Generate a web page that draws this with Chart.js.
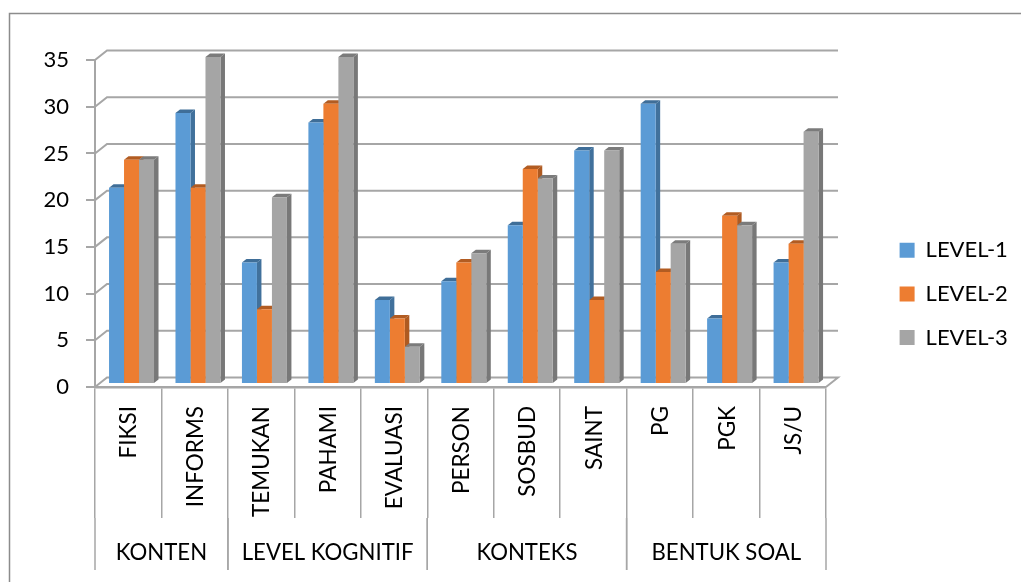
<!DOCTYPE html>
<html>
<head>
<meta charset="utf-8">
<style>
	html, body { margin: 0; padding: 0; background: #fff; }
	canvas { display: block; }
</style>
<script src="https://cdn.jsdelivr.net/npm/chart.js@4/dist/chart.umd.min.js"></script>
</head>
<body>
<canvas id="chart" width="1021" height="582"></canvas>
<script>
var categories = ["FIKSI","INFORMS","TEMUKAN","PAHAMI","EVALUASI","PERSON","SOSBUD","SAINT","PG","PGK","JS/U"];
var groupNames = ["KONTEN","LEVEL KOGNITIF","KONTEKS","BENTUK SOAL"];
var groupSizes = [2,3,3,3];

var level1 = [21,29,13,28,9,11,17,25,30,7,13];
var level2 = [24,21,8,30,7,13,23,9,12,18,15];
var level3 = [24,35,20,35,4,14,22,25,15,17,27];

var fontName = "Lato";
var gridColor = "#A6A6A6";

// the depth look of the excel chart
var depth = {wallX: 12, wallY: 9.5, barX: 4.5, barY: 3.5, shiftX: 3.3, shiftY: -3};

var sideColors = ["#41719C","#AE5A21","#787878"];
var topColors = ["#3F6E98","#B25C22","#7B7B7B"];

var frame = {
	id: 'frame',
	beforeDraw: function (chart)
	{
		var ctx = chart.ctx;
		ctx.save();
		ctx.strokeStyle = "#8C8C8C";
		ctx.lineWidth = 1.5;
		ctx.beginPath();
		ctx.moveTo(9.5, 582);
		ctx.lineTo(9.5, 13.5);
		ctx.lineTo(1021, 13.5);
		ctx.stroke();
		ctx.restore();
	}
};

var wall = {
	id: 'wall',
	beforeDatasetsDraw: function (chart)
	{
		var ctx = chart.ctx, y = chart.scales.y, area = chart.chartArea;

		ctx.save();
		ctx.strokeStyle = gridColor;
		ctx.lineWidth = 2;
		y.ticks.forEach(function (tick)
		{
			var py = y.getPixelForValue(tick.value);
			ctx.beginPath();
			ctx.moveTo(area.left, py);
			ctx.lineTo(area.left + depth.wallX, py - depth.wallY);
			ctx.lineTo(area.right + depth.wallX, py - depth.wallY);
			if(tick.value === 0) ctx.lineTo(area.right, py);
			ctx.stroke();
		});
		ctx.restore();

		// side and top faces first, the library paints the fronts over them
		ctx.save();
		ctx.translate(depth.shiftX, depth.shiftY);
		chart.data.datasets.forEach(function (set, s)
		{
			chart.getDatasetMeta(s).data.forEach(function (bar)
			{
				var r = bar.x + bar.width / 2, l = bar.x - bar.width / 2;

				ctx.fillStyle = sideColors[s];
				ctx.beginPath();
				ctx.moveTo(r, bar.y);
				ctx.lineTo(r + depth.barX, bar.y - depth.barY);
				ctx.lineTo(r + depth.barX, bar.base - depth.barY);
				ctx.lineTo(r, bar.base);
				ctx.fill();

				ctx.fillStyle = topColors[s];
				ctx.beginPath();
				ctx.moveTo(l, bar.y);
				ctx.lineTo(l + depth.barX, bar.y - depth.barY);
				ctx.lineTo(r + depth.barX, bar.y - depth.barY);
				ctx.lineTo(r, bar.y);
				ctx.fill();
			});
		});
		ctx.restore();

		ctx.save();
		ctx.translate(depth.shiftX, depth.shiftY);
	},
	afterDatasetsDraw: function (chart)
	{
		chart.ctx.restore();
	}
};

var axisText = {
	id: 'axisText',
	afterDraw: function (chart)
	{
		var ctx = chart.ctx, x = chart.scales.x, area = chart.chartArea;

		ctx.save();
		ctx.fillStyle = "#000";

		ctx.font = "22.5px " + fontName;
		ctx.textAlign = "right";
		ctx.textBaseline = "middle";
		categories.forEach(function (name, i)
		{
			ctx.save();
			ctx.translate(x.getPixelForValue(i) + 1, 406);
			ctx.rotate(-Math.PI / 2);
			ctx.fillText(name, 0, 0);
			ctx.restore();
		});

		// group row below the categories
		var step = x.getPixelForValue(1) - x.getPixelForValue(0);
		var start = 0;
		ctx.font = "22.2px " + fontName;
		ctx.textAlign = "center";
		ctx.strokeStyle = gridColor;
		ctx.lineWidth = 1.5;
		groupNames.forEach(function (name, g)
		{
			var from = area.left + start * step;
			var to = from + groupSizes[g] * step;
			ctx.fillText(name, (from + to) / 2, 553);

			[from, to].forEach(function (px)
			{
				ctx.beginPath();
				ctx.moveTo(px, 518);
				ctx.lineTo(px, 570);
				ctx.stroke();
			});
			start += groupSizes[g];
		});
		ctx.restore();
	}
};

var legendPlace = {
	id: 'legendPlace',
	afterLayout: function (chart)
	{
		chart.legend.left = 878;
		chart.legend.right = 1021;
		chart.legend.top = 217.7;
		chart.legend.bottom = 400;
	}
};

new Chart(document.getElementById("chart"), {
	type: 'bar',
	data: {
		labels: categories,
		datasets: [
			{label: "LEVEL-1", data: level1, backgroundColor: "#5B9BD5"},
			{label: "LEVEL-2", data: level2, backgroundColor: "#ED7D31"},
			{label: "LEVEL-3", data: level3, backgroundColor: "#A5A5A5"}
		]
	},
	plugins: [frame, wall, axisText, legendPlace],
	options: {
		responsive: false,
		animation: false,
		layout: {padding: {left: 0, top: 60, right: 195, bottom: 0}},
		datasets: {bar: {categoryPercentage: 0.677, barPercentage: 1}},
		plugins: {
			tooltip: {enabled: false},
			legend: {
				position: 'chartArea',
				align: 'start',
				labels: {
					boxWidth: 15,
					boxHeight: 15,
					padding: 21.6,
					color: "#000",
					font: {family: fontName, size: 22}
				}
			}
		},
		scales: {
			x: {
				afterFit: function (scale) { scale.height = 195; },
				grid: {
					drawOnChartArea: false,
					color: gridColor,
					lineWidth: 1.5,
					tickLength: 131
				},
				border: {color: gridColor, width: 2.5},
				ticks: {display: false}
			},
			y: {
				min: 0,
				max: 35,
				afterFit: function (scale) { scale.width = 95; },
				grid: {
					drawOnChartArea: false,
					color: gridColor,
					lineWidth: 2,
					tickLength: 9
				},
				border: {color: gridColor, width: 2},
				ticks: {
					stepSize: 5,
					padding: 17,
					color: "#000",
					font: {family: fontName, size: 22}
				}
			}
		}
	}
});
</script>
</body>
</html>
